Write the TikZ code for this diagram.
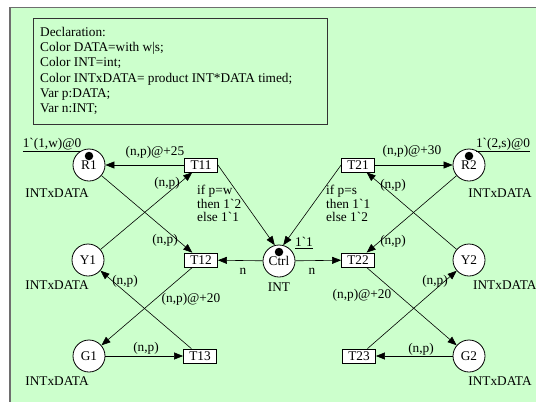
\documentclass[tikz,border=0pt]{standalone}
\usepackage{fontspec}
\newfontfamily\pn{Liberation Serif}
\newcommand\pnfont{\pn\fontsize{13.3bp}{13.6bp}\selectfont}
\usetikzlibrary{arrows.meta}
\definecolor{bggreen}{RGB}{204,255,204}
\definecolor{edgegray}{RGB}{110,110,110}
\tikzset{
  place/.style={circle, draw, fill=white, minimum size=32bp, inner sep=0, line width=0.8bp, font=\pnfont},
  trans/.style={rectangle, draw, fill=white, minimum width=33bp, minimum height=14bp, inner sep=0, line width=0.8bp, font=\pnfont},
  lbl/.style={inner sep=0, font=\pnfont},
  arc/.style={-{Triangle[length=9bp,width=7bp]}, line width=0.6bp},
  token/.style={circle, fill=black, minimum size=8.5bp, inner sep=0},
}
\begin{document}
\begin{tikzpicture}[x=1bp,y=-1bp]
\useasboundingbox (0,0) rectangle (536,401);
\fill[white] (0,0) rectangle (536,401);
\fill[bggreen] (10,7.5) rectangle (540,405);
\draw[edgegray, line width=1.5bp] (10,405) -- (10,7.5) -- (540,7.5);
% declaration
\node[draw=black!80, line width=0.8bp, anchor=north west, minimum width=294bp, minimum height=106bp, inner sep=0] (declbox) at (33,18) {};
\node[lbl, anchor=north west, align=left, font=\pn\fontsize{13.3bp}{15.2bp}\selectfont] (decl) at (40,27) {Declaration:\\Color DATA=with w|s;\\Color INT=int;\\Color INTxDATA= product INT*DATA timed;\\Var p:DATA;\\Var n:INT;};
% places
\node[place] (R1) at (89,165) {R1};
\node[place] (Y1) at (88,260) {Y1};
\node[place] (G1) at (89,356) {G1};
\node[place] (Ctrl) at (279,261) {Ctrl};
\node[place] (R2) at (469,165) {R2};
\node[place] (Y2) at (469,260) {Y2};
\node[place] (G2) at (469,356) {G2};
\node[token] (tkR1) at ([yshift=9bp]R1.center) {};
\node[token] (tkCtrl) at ([yshift=9bp]Ctrl.center) {};
\node[token] (tkR2) at ([yshift=9bp]R2.center) {};
% transitions
\node[trans] (T11) at (201,165) {T11};
\node[trans] (T12) at (201,260) {T12};
\node[trans] (T13) at (200,356) {T13};
\node[trans] (T21) at (358,165) {T21};
\node[trans] (T22) at (358,260) {T22};
\node[trans] (T23) at (359,356) {T23};
% arcs
\draw[arc] (T11) -- (R1);
\draw[arc] (Y1) -- (T11);
\draw[arc] (R1) -- (T12);
\draw[arc] (T11.east) -- (Ctrl.105);
\draw[arc] (Ctrl) -- (T12);
\draw[arc] (Ctrl) -- (T22);
\draw[arc] (T12) -- (G1);
\draw[arc] (T13) -- (Y1);
\draw[arc] (G1) -- (T13);
\draw[arc] (T21) -- (R2);
\draw[arc] (Y2) -- (T21);
\draw[arc] (T21.west) -- (Ctrl.75);
\draw[arc] (R2) -- (T22);
\draw[arc] (T22) -- (G2);
\draw[arc] (T23) -- (Y2);
\draw[arc] (G2) -- (T23);
% labels left
\node[lbl] (mR1) at (52,145) {\underline{1`(1,w)@0}};
\node[lbl] (cR1) at (57,193) {INTxDATA};
\node[lbl] (cY1) at (57,285) {INTxDATA};
\node[lbl] (cG1) at (57,381) {INTxDATA};
\node[lbl] (a1) at (155,152) {(n,p)@+25};
\node[lbl] (a2) at (167,183) {(n,p)};
\node[lbl] (a3) at (165,240) {(n,p)};
\node[lbl, anchor=north west, align=left] (a4) at (197,185) {if p=w\\then 1`2\\else 1`1};
\node[lbl] (a5) at (125,281) {(n,p)};
\node[lbl] (a6) at (191,299) {(n,p)@+20};
\node[lbl] (a7) at (146,348) {(n,p)};
% centre
\node[lbl] (mCtrl) at (304,243) {\underline{1`1}};
\node[lbl] (cCtrl) at (279,287) {INT};
\node[lbl] (n1) at (243,271) {n};
\node[lbl] (n2) at (312,271) {n};
% labels right
\node[lbl] (mR2) at (503,145) {\underline{1`(2,s)@0}};
\node[lbl] (cR2) at (500,193) {INTxDATA};
\node[lbl, anchor=west] (cY2) at (473,285) {INTxDATA};
\node[lbl] (cG2) at (500,381) {INTxDATA};
\node[lbl] (b1) at (412,151) {(n,p)@+30};
\node[lbl] (b2) at (393,185) {(n,p)};
\node[lbl] (b3) at (393,241) {(n,p)};
\node[lbl, anchor=north west, align=left] (b4) at (326,185) {if p=s\\then 1`1\\else 1`2};
\node[lbl] (b5) at (435,281) {(n,p)};
\node[lbl] (b6) at (362,295) {(n,p)@+20};
\node[lbl] (b7) at (421,349) {(n,p)};
\end{tikzpicture}
\end{document}
